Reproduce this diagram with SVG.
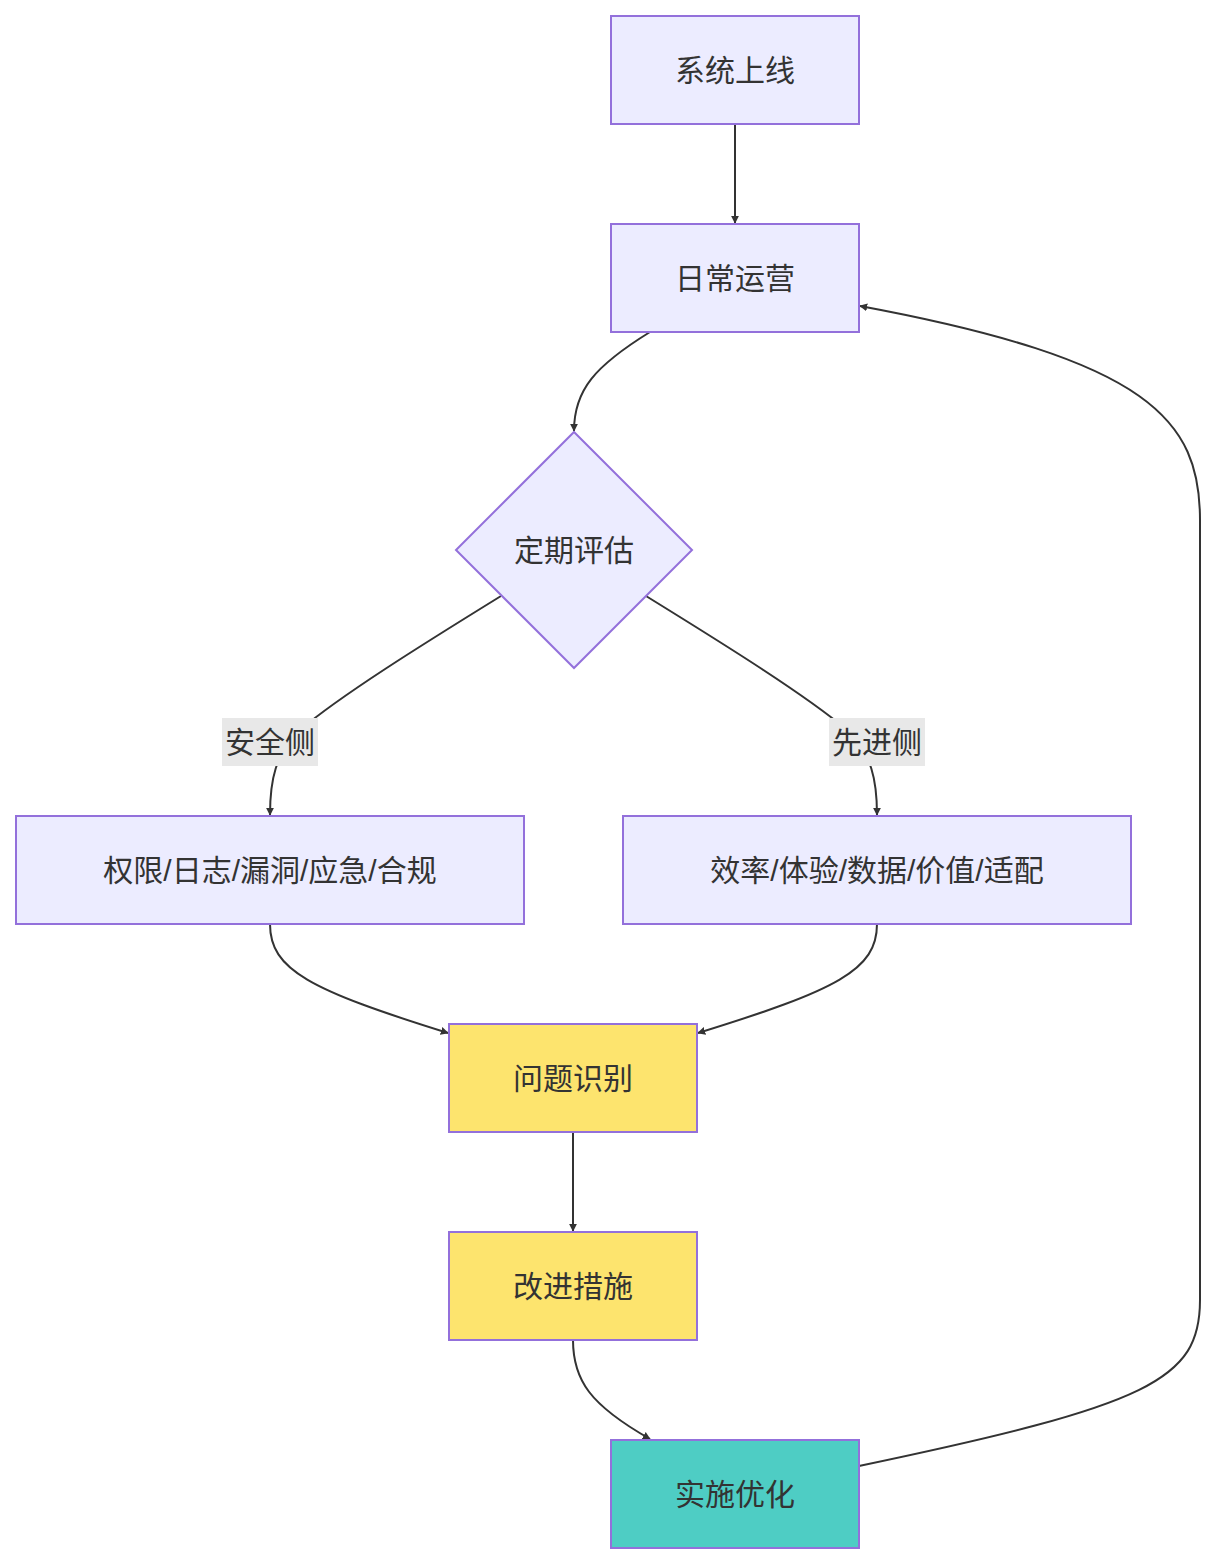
<svg xmlns="http://www.w3.org/2000/svg" width="1216" height="1564" viewBox="0 0 1216 1564">
<style>
.n{fill:#ececff;stroke:#9370db;stroke-width:2}
.y{fill:#fde46e;stroke:#9370db;stroke-width:2}
.t{fill:#4ecdc4;stroke:#9370db;stroke-width:2}
text{font-family:"Liberation Sans","Noto Sans CJK SC",sans-serif;font-size:30px;fill:#333;text-anchor:middle;dominant-baseline:central}
.e{fill:none;stroke:#333;stroke-width:2;marker-end:url(#a)}
.lb{fill:#e8e8e8}
</style>
<defs><marker id="a" viewBox="0 0 10 10" refX="9" refY="5" markerWidth="8" markerHeight="8" markerUnits="userSpaceOnUse" orient="auto"><path d="M0,0L10,5L0,10z" fill="#333"/></marker></defs>
<g id="edges">
<path class="e" d="M735,124L735,223"/>
<path class="e" d="M650,332C595,366 574,390 574,431"/>
<path class="e" d="M501,596C420,646 340,696 300,730C275,755 270,780 270,815"/>
<path class="e" d="M646,596C727,646 807,696 847,730C872,755 877,780 877,815"/>
<path class="e" d="M270,924C270,970 310,990 448,1033"/>
<path class="e" d="M877,924C877,970 837,990 698,1033"/>
<path class="e" d="M573,1132L573,1231"/>
<path class="e" d="M573,1340C573,1380 590,1405 650,1439"/>
<path class="e" d="M859,1466C1150,1405 1200,1380 1200,1300L1200,520C1200,420 1150,360 860,306"/>
<rect class="lb" x="222" y="718" width="96" height="48"/><text x="270" y="742">安全侧</text>
<rect class="lb" x="829" y="718" width="96" height="48"/><text x="877" y="742">先进侧</text>
</g>
<g id="n1"><rect class="n" x="611" y="16" width="248" height="108"/><text x="735" y="70">系统上线</text></g>
<g id="n2"><rect class="n" x="611" y="224" width="248" height="108"/><text x="735" y="278">日常运营</text></g>
<g id="n3"><path class="n" d="M574,432L692,550L574,668L456,550z"/><text x="574" y="550">定期评估</text></g>
<g id="n4"><rect class="n" x="16" y="816" width="508" height="108"/><text x="270" y="870">权限/日志/漏洞/应急/合规</text></g>
<g id="n5"><rect class="n" x="623" y="816" width="508" height="108"/><text x="877" y="870">效率/体验/数据/价值/适配</text></g>
<g id="n6"><rect class="y" x="449" y="1024" width="248" height="108"/><text x="573" y="1078">问题识别</text></g>
<g id="n7"><rect class="y" x="449" y="1232" width="248" height="108"/><text x="573" y="1286">改进措施</text></g>
<g id="n8"><rect class="t" x="611" y="1440" width="248" height="108"/><text x="735" y="1494">实施优化</text></g>
</svg>
